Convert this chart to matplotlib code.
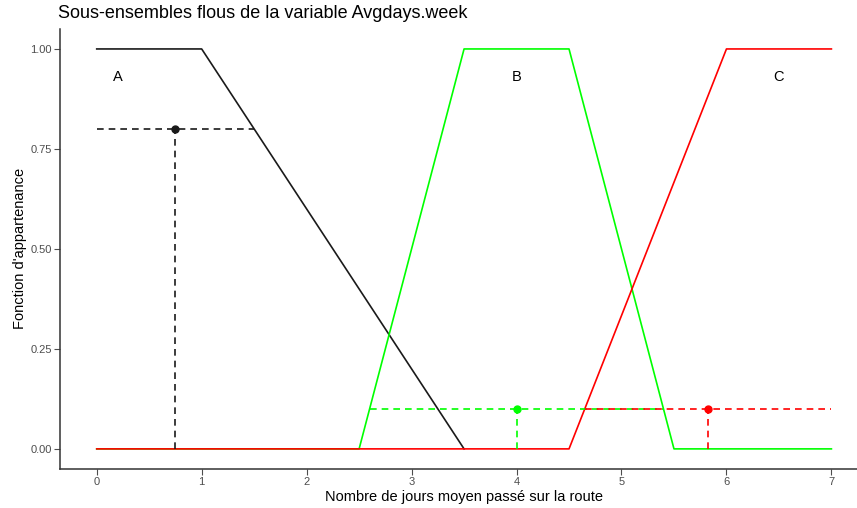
import matplotlib
matplotlib.use("Agg")
import matplotlib.pyplot as plt

plt.rcParams['font.family'] = ['Liberation Sans', 'DejaVu Sans']

# membership functions (breakpoints)
a_x = [0, 1, 3.5]
a_y = [1, 1, 0]
b_x = [0, 2.5, 3.5, 4.5, 5.5, 7]
b_y = [0, 0, 1, 1, 0, 0]
c_x = [0, 4.5, 6, 7]
c_y = [0, 0, 1, 1]

# evaluated points
pt_a = (0.75, 0.8)
pt_b = (4.0, 0.1)
pt_c = (5.82, 0.1)
# horizontal guide extents
hline_a = (0, 1.5)
hline_b = (2.6, 5.4)
hline_c = (4.65, 7)

set_labels = ['A', 'B', 'C']
label_x = [0.2, 4.0, 6.5]
label_y = 0.93

xticks = [0, 1, 2, 3, 4, 5, 6, 7]
yticks = [0, 0.25, 0.5, 0.75, 1.0]

col_a, col_b, col_c = '#1a1a1a', '#00ff00', '#ff0000'

fig = plt.figure(figsize=(8.57, 5.08), dpi=100)
ax = fig.add_axes([0.070, 0.077, 0.943, 0.866])

ax.plot(a_x, a_y, color=col_a, lw=1.2)
ax.plot(b_x, b_y, color=col_b, lw=1.2)
ax.plot(c_x, c_y, color=col_c, lw=1.2)

dash = (0, (4, 3))
for (px, py), (h0, h1), col in [(pt_a, hline_a, col_a), (pt_b, hline_b, col_b), (pt_c, hline_c, col_c)]:
    ax.plot([h0, h1], [py, py], color=col, lw=1.2, linestyle=dash)
    ax.plot([px, px], [0, py], color=col, lw=1.2, linestyle=dash)
    ax.plot(px, py, 'o', color=col, ms=5)

for lab, lx in zip(set_labels, label_x):
    ax.text(lx, label_y, lab, ha='center', va='center', fontsize=10.5, color='black')

ax.set_xlim(-0.35, 7.35)
ax.set_ylim(-0.05, 1.05)
ax.set_xticks(xticks)
ax.set_yticks(yticks)
ax.set_yticklabels(['%.2f' % v for v in yticks])
ax.tick_params(colors='#4d4d4d', labelsize=8, length=4, width=0.8, pad=2)
for s in ['top', 'right']:
    ax.spines[s].set_visible(False)
for s in ['left', 'bottom']:
    ax.spines[s].set_color('#333333')
    ax.spines[s].set_linewidth(1.1)

ax.set_xlabel("Nombre de jours moyen passé sur la route", fontsize=10.5, labelpad=2)
ax.set_ylabel("Fonction d'appartenance", fontsize=10.5, labelpad=2)
fig.text(0.068, 0.973, "Sous-ensembles flous de la variable Avgdays.week", fontsize=13, ha='left', va='center')

fig.savefig('out.png', dpi=100)
